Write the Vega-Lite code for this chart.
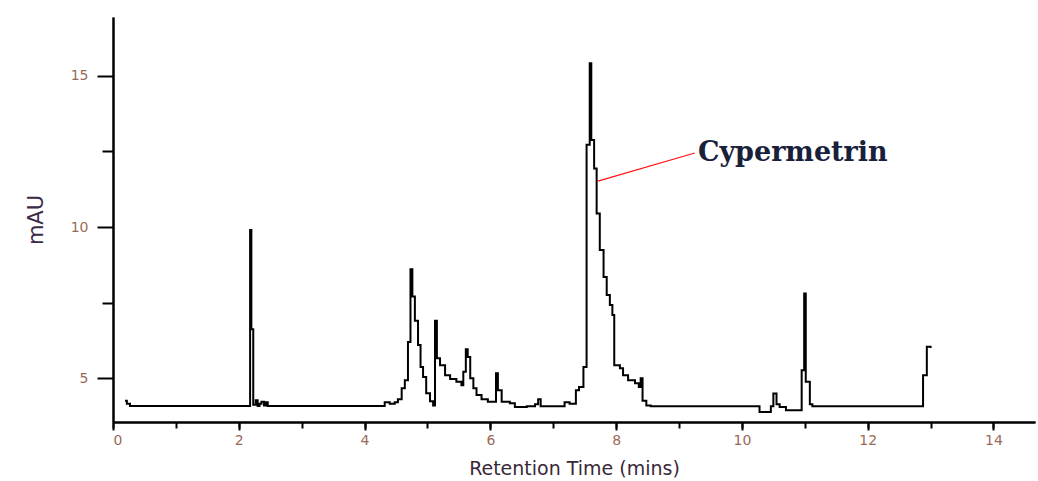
{
  "$schema": "https://vega.github.io/schema/vega-lite/v6.json",
  "width": 922,
  "height": 405,
  "autosize": {"type": "none"},
  "padding": {"left": 113, "top": 17, "right": 3, "bottom": 59},
  "background": "white",
  "config": {
    "view": {"stroke": null},
    "axis": {
      "domainColor": "black",
      "domainWidth": 2,
      "tickColor": "black",
      "tickWidth": 2,
      "grid": false,
      "labelFont": "DejaVu Sans",
      "labelFontSize": 14,
      "labelColor": "#9a6a58",
      "titleFont": "DejaVu Sans",
      "titleFontWeight": "normal"
    }
  },
  "datasets": {
    "trace": [
      {"t": 0.19, "v": 4.25}, {"t": 0.22, "v": 4.15}, {"t": 0.27, "v": 4.08},
      {"t": 2.18, "v": 9.9}, {"t": 2.2, "v": 6.62}, {"t": 2.23, "v": 4.12},
      {"t": 2.27, "v": 4.27}, {"t": 2.3, "v": 4.08}, {"t": 2.33, "v": 4.15},
      {"t": 2.36, "v": 4.22}, {"t": 2.4, "v": 4.1}, {"t": 2.43, "v": 4.2},
      {"t": 2.46, "v": 4.08},
      {"t": 4.32, "v": 4.2}, {"t": 4.4, "v": 4.15}, {"t": 4.48, "v": 4.2},
      {"t": 4.53, "v": 4.3}, {"t": 4.59, "v": 4.67}, {"t": 4.64, "v": 4.93},
      {"t": 4.69, "v": 6.2}, {"t": 4.73, "v": 8.6}, {"t": 4.76, "v": 7.7},
      {"t": 4.8, "v": 6.9}, {"t": 4.85, "v": 6.1}, {"t": 4.89, "v": 5.37},
      {"t": 4.93, "v": 5.04}, {"t": 4.98, "v": 4.5}, {"t": 5.04, "v": 4.24},
      {"t": 5.09, "v": 4.1}, {"t": 5.12, "v": 6.9}, {"t": 5.15, "v": 5.66},
      {"t": 5.2, "v": 5.43}, {"t": 5.28, "v": 5.1}, {"t": 5.36, "v": 4.97},
      {"t": 5.46, "v": 4.88}, {"t": 5.54, "v": 4.77}, {"t": 5.57, "v": 5.21},
      {"t": 5.61, "v": 5.96}, {"t": 5.64, "v": 5.7}, {"t": 5.68, "v": 5.0},
      {"t": 5.73, "v": 4.67}, {"t": 5.78, "v": 4.44}, {"t": 5.86, "v": 4.3},
      {"t": 5.96, "v": 4.22}, {"t": 6.09, "v": 5.16}, {"t": 6.12, "v": 4.6},
      {"t": 6.18, "v": 4.22}, {"t": 6.31, "v": 4.17}, {"t": 6.39, "v": 4.05},
      {"t": 6.58, "v": 4.07}, {"t": 6.71, "v": 4.14}, {"t": 6.76, "v": 4.3},
      {"t": 6.8, "v": 4.07}, {"t": 7.18, "v": 4.2}, {"t": 7.26, "v": 4.15},
      {"t": 7.36, "v": 4.6}, {"t": 7.41, "v": 4.71}, {"t": 7.48, "v": 5.37},
      {"t": 7.53, "v": 12.72}, {"t": 7.58, "v": 15.42}, {"t": 7.605, "v": 12.88},
      {"t": 7.65, "v": 11.94}, {"t": 7.69, "v": 10.45}, {"t": 7.74, "v": 9.24},
      {"t": 7.8, "v": 8.35}, {"t": 7.85, "v": 7.75}, {"t": 7.9, "v": 7.42},
      {"t": 7.94, "v": 7.09}, {"t": 7.97, "v": 5.43}, {"t": 8.06, "v": 5.33},
      {"t": 8.11, "v": 5.1}, {"t": 8.19, "v": 4.93}, {"t": 8.3, "v": 4.83},
      {"t": 8.36, "v": 4.71}, {"t": 8.39, "v": 5.0}, {"t": 8.42, "v": 4.25},
      {"t": 8.48, "v": 4.1}, {"t": 8.55, "v": 4.07},
      {"t": 10.28, "v": 3.88}, {"t": 10.46, "v": 4.07}, {"t": 10.5, "v": 4.49},
      {"t": 10.55, "v": 4.14}, {"t": 10.6, "v": 4.05}, {"t": 10.7, "v": 3.94},
      {"t": 10.95, "v": 5.26}, {"t": 10.99, "v": 7.8}, {"t": 11.015, "v": 4.88},
      {"t": 11.08, "v": 4.14}, {"t": 11.12, "v": 4.07},
      {"t": 12.88, "v": 5.1}, {"t": 12.94, "v": 6.04}, {"t": 13.0, "v": 6.0}
    ],
    "pointer": [
      {"t": 7.71, "v": 11.52, "t2": 9.25, "v2": 12.45}
    ],
    "label": [
      {"t": 9.3, "v": 12.45, "name": "Cypermetrin"}
    ]
  },
  "resolve": {"axis": {"x": "independent", "y": "independent"}},
  "layer": [
    {
      "data": {"name": "trace"},
      "mark": {"type": "line", "color": "black", "strokeWidth": 2, "interpolate": "step-after"},
      "encoding": {
        "x": {
          "field": "t", "type": "quantitative",
          "scale": {"domain": [0, 14.66], "nice": false, "zero": false},
          "axis": {"orient": "bottom", "values": [0,1,2,3,4,5,6,7,8,9,10,11,12,13,14], "labels": false, "tickSize": 6, "title": null}
        },
        "y": {
          "field": "v", "type": "quantitative",
          "scale": {"domain": [3.55, 16.95], "nice": false, "zero": false},
          "axis": {"orient": "left", "values": [7.5, 12.5], "labels": false, "tickSize": 11, "title": null}
        }
      }
    },
    {
      "data": {"name": "pointer"},
      "mark": {"type": "rule", "color": "#ff1010", "strokeWidth": 1.2},
      "encoding": {
        "x": {
          "field": "t", "type": "quantitative",
          "axis": {"orient": "bottom", "values": [0,2,4,6,8,10,12,14], "tickSize": 8, "labelPadding": 3,
                   "title": "Retention Time (mins)", "titleFontSize": 19, "titleColor": "#3a2838", "titlePadding": 12}
        },
        "y": {
          "field": "v", "type": "quantitative",
          "axis": {"orient": "left", "values": [5, 10, 15], "tickSize": 16, "labelPadding": 9,
                   "title": "mAU", "titleFontSize": 21, "titleColor": "#3a2a48", "titlePadding": 24}
        },
        "x2": {"field": "t2"},
        "y2": {"field": "v2"}
      }
    },
    {
      "data": {"name": "label"},
      "mark": {"type": "text", "align": "left", "baseline": "middle", "font": "DejaVu Serif", "fontWeight": "bold", "fontSize": 27, "color": "#18203a"},
      "encoding": {
        "x": {"field": "t", "type": "quantitative", "axis": null},
        "y": {"field": "v", "type": "quantitative", "axis": null},
        "text": {"field": "name"}
      }
    }
  ]
}
